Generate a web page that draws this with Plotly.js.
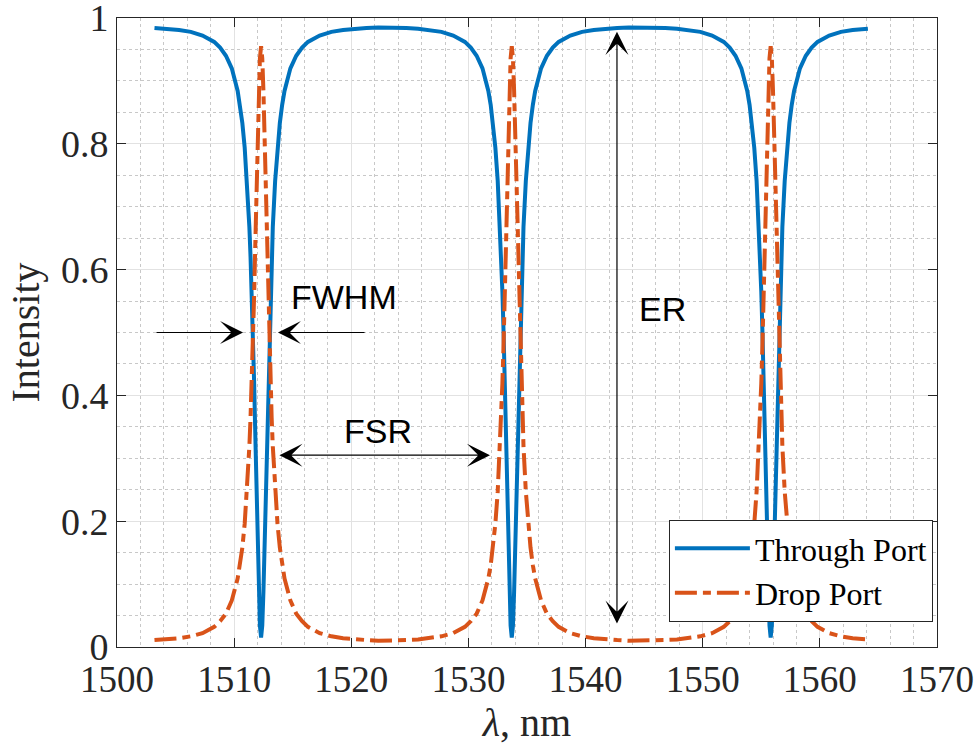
<!DOCTYPE html>
<html>
<head>
<meta charset="utf-8">
<script src="https://cdn.plot.ly/plotly-3.0.1.min.js"></script>
<style>html,body{margin:0;padding:0;background:#fff}#chart{width:980px;height:752px}</style>
</head>
<body>
<div id="chart"></div>
<script>
// wavelength samples (nm)
const wavelength = [
1503.2,1504.3,1505.3,1506.3,1507.3,1508.3,1508.8,1509.3,1509.8,1510.3,1510.5,1510.7,1510.9,1511.1,1511.3,1511.4,1511.5,1511.6,1511.7,1511.8,1511.9,1512.0,1512.1,1512.2,1512.3,1512.4,1512.5,1512.6,1512.7,1512.8,1512.9,1513.0,1513.1,1513.2,1513.3,1513.5,1513.7,1513.9,1514.1,1514.3,1514.8,1515.3,1515.8,1516.3,1517.3,1518.3,1519.3,1520.3,1521.3,1522.3,1523.0,
1523.7,1524.7,1525.7,1526.7,1527.7,1528.7,1529.7,1530.2,1530.7,1531.2,1531.7,1531.9,1532.1,1532.3,1532.5,1532.7,1532.8,1532.9,1533.0,1533.1,1533.2,1533.3,1533.4,1533.5,1533.6,1533.7,1533.8,1533.9,1534.0,1534.1,1534.2,1534.3,1534.4,1534.5,1534.6,1534.7,1534.9,1535.1,1535.3,1535.5,1535.7,1536.2,1536.7,1537.2,1537.7,1538.7,1539.7,1540.7,1541.7,1542.7,1543.7,1544.75,
1545.8,1546.8,1547.8,1548.8,1549.8,1550.8,1551.8,1552.3,1552.8,1553.3,1553.8,1554.0,1554.2,1554.4,1554.6,1554.8,1554.9,1555.0,1555.1,1555.2,1555.3,1555.4,1555.5,1555.6,1555.7,1555.8,1555.9,1556.0,1556.1,1556.2,1556.3,1556.4,1556.5,1556.6,1556.7,1556.8,1557.0,1557.2,1557.4,1557.6,1557.8,1558.3,1558.8,1559.3,1559.8,1560.8,1561.8,1562.8,1563.8,1564.1
];
// Through port intensity
const throughPort = [
.984,.983,.981,.978,.972,.962,.953,.940,.920,.884,.862,.833,.794,.741,.668,.620,.565,.500,.425,.342,.253,.165,.088,.034,.015,.034,.088,.165,.253,.342,.425,.500,.565,.620,.668,.741,.794,.833,.862,.884,.920,.940,.953,.962,.972,.978,.981,.983,.984,.985,.985,
.985,.984,.983,.981,.978,.972,.962,.953,.940,.920,.884,.862,.833,.794,.741,.668,.620,.565,.500,.425,.342,.253,.165,.088,.034,.015,.034,.088,.165,.253,.342,.425,.500,.565,.620,.668,.741,.794,.833,.862,.884,.920,.940,.953,.962,.972,.978,.981,.983,.984,.985,.985,
.985,.984,.983,.981,.978,.972,.962,.953,.940,.920,.884,.862,.833,.794,.741,.668,.620,.565,.500,.425,.342,.253,.165,.088,.034,.015,.034,.088,.165,.253,.342,.425,.500,.565,.620,.668,.741,.794,.833,.862,.884,.920,.940,.953,.962,.972,.978,.981,.983,.983
];
// Drop port intensity
const dropPort = [
.011,.012,.014,.017,.022,.032,.041,.053,.074,.109,.130,.158,.196,.247,.319,.365,.419,.482,.555,.636,.723,.809,.884,.936,.955,.936,.884,.809,.723,.636,.555,.482,.419,.365,.319,.247,.196,.158,.130,.109,.074,.053,.041,.032,.022,.017,.014,.012,.011,.010,.010,
.010,.011,.012,.014,.017,.022,.032,.041,.053,.074,.109,.130,.158,.196,.247,.319,.365,.419,.482,.555,.636,.723,.809,.884,.936,.955,.936,.884,.809,.723,.636,.555,.482,.419,.365,.319,.247,.196,.158,.130,.109,.074,.053,.041,.032,.022,.017,.014,.012,.011,.010,.010,
.010,.011,.012,.014,.017,.022,.032,.041,.053,.074,.109,.130,.158,.196,.247,.319,.365,.419,.482,.555,.636,.723,.809,.884,.936,.955,.936,.884,.809,.723,.636,.555,.482,.419,.365,.319,.247,.196,.158,.130,.109,.074,.053,.041,.032,.022,.017,.014,.012,.012
];
const seriesNames = ['Through Port', 'Drop Port'];
const xTicks = [1500,1510,1520,1530,1540,1550,1560,1570];
const yTicks = [0,0.2,0.4,0.6,0.8,1];
const yTickText = ['0','0.2','0.4','0.6','0.8','1'];

const axisColor = '#262626';
const serif = 'Liberation Serif, Times New Roman, serif';
const sans = 'Liberation Sans, Arial, sans-serif';

const traces = [
  {x: wavelength, y: throughPort, name: seriesNames[0], type: 'scatter', mode: 'lines',
   line: {color: '#0072BD', width: 4}},
  {x: wavelength, y: dropPort, name: seriesNames[1], type: 'scatter', mode: 'lines',
   line: {color: '#D95319', width: 4, dash: '22px,6px,8px,6px'}}
];

const arrowStyle = {showarrow: true, text: '', arrowhead: 3, arrowsize: 3.2, arrowwidth: 1.2,
  arrowcolor: '#000', axref: 'x', ayref: 'y', xref: 'x', yref: 'y', standoff: 0, startstandoff: 0};

const annotations = [
  Object.assign({}, arrowStyle, {x: 1510.76, y: 0.5, ax: 1503.24, ay: 0.5}),
  Object.assign({}, arrowStyle, {x: 1513.74, y: 0.5, ax: 1521.26, ay: 0.5}),
  Object.assign({}, arrowStyle, {x: 1531.84, y: 0.305, ax: 1513.74, ay: 0.305,
     arrowside: 'end+start', startarrowhead: 3, startarrowsize: 3.2}),
  Object.assign({}, arrowStyle, {x: 1542.68, y: 0.978, ax: 1542.68, ay: 0.035,
     arrowside: 'end+start', startarrowhead: 3, startarrowsize: 3.2}),
  {x: 1519.34, y: 0.556, xref: 'x', yref: 'y', text: 'FWHM', showarrow: false,
   font: {family: sans, size: 34, color: '#000'}},
  {x: 1522.28, y: 0.343, xref: 'x', yref: 'y', text: 'FSR', showarrow: false,
   font: {family: sans, size: 34, color: '#000'}},
  {x: 1546.57, y: 0.538, xref: 'x', yref: 'y', text: 'ER', showarrow: false,
   font: {family: sans, size: 34, color: '#000'}}
];

const layout = {
  width: 980, height: 752,
  margin: {l: 117, r: 43, t: 18, b: 105},
  paper_bgcolor: '#fff', plot_bgcolor: '#fff',
  showlegend: true,
  legend: {x: 0.995, xanchor: 'right', y: 0.04, yanchor: 'bottom',
    bgcolor: '#fff', bordercolor: axisColor, borderwidth: 1,
    font: {family: serif, size: 32, color: '#000'}, itemwidth: 75, tracegroupgap: 0},
  xaxis: {
    range: [1500, 1570], tickvals: xTicks, ticktext: xTicks.map(String),
    showgrid: true, gridcolor: '#e2e2e2', gridwidth: 1,
    minor: {dtick: 2, tick0: 1500, showgrid: true, gridcolor: '#c8c8c8', griddash: 'dot', gridwidth: 1, ticks: ''},
    ticks: 'inside', ticklen: 9, tickwidth: 1, tickcolor: axisColor,
    showline: true, linecolor: axisColor, linewidth: 1, mirror: 'ticks', zeroline: false,
    ticklabeloverflow: 'allow',
    tickfont: {family: serif, size: 37, color: axisColor},
    title: {text: '<i>λ</i>, nm', font: {family: serif, size: 40, color: axisColor}, standoff: 6}
  },
  yaxis: {
    range: [0, 1], tickvals: yTicks, ticktext: yTickText,
    showgrid: true, gridcolor: '#e2e2e2', gridwidth: 1,
    minor: {dtick: 0.05, tick0: 0, showgrid: true, gridcolor: '#c8c8c8', griddash: 'dot', gridwidth: 1, ticks: ''},
    ticks: 'inside', ticklen: 9, tickwidth: 1, tickcolor: axisColor,
    showline: true, linecolor: axisColor, linewidth: 1, mirror: 'ticks', zeroline: false,
    ticklabeloverflow: 'allow',
    tickfont: {family: serif, size: 38, color: axisColor},
    title: {text: 'Intensity', font: {family: serif, size: 40, color: axisColor}, standoff: 8}
  },
  annotations: annotations
};

Plotly.newPlot('chart', traces, layout, {displayModeBar: false, staticPlot: true});
</script>
</body>
</html>
